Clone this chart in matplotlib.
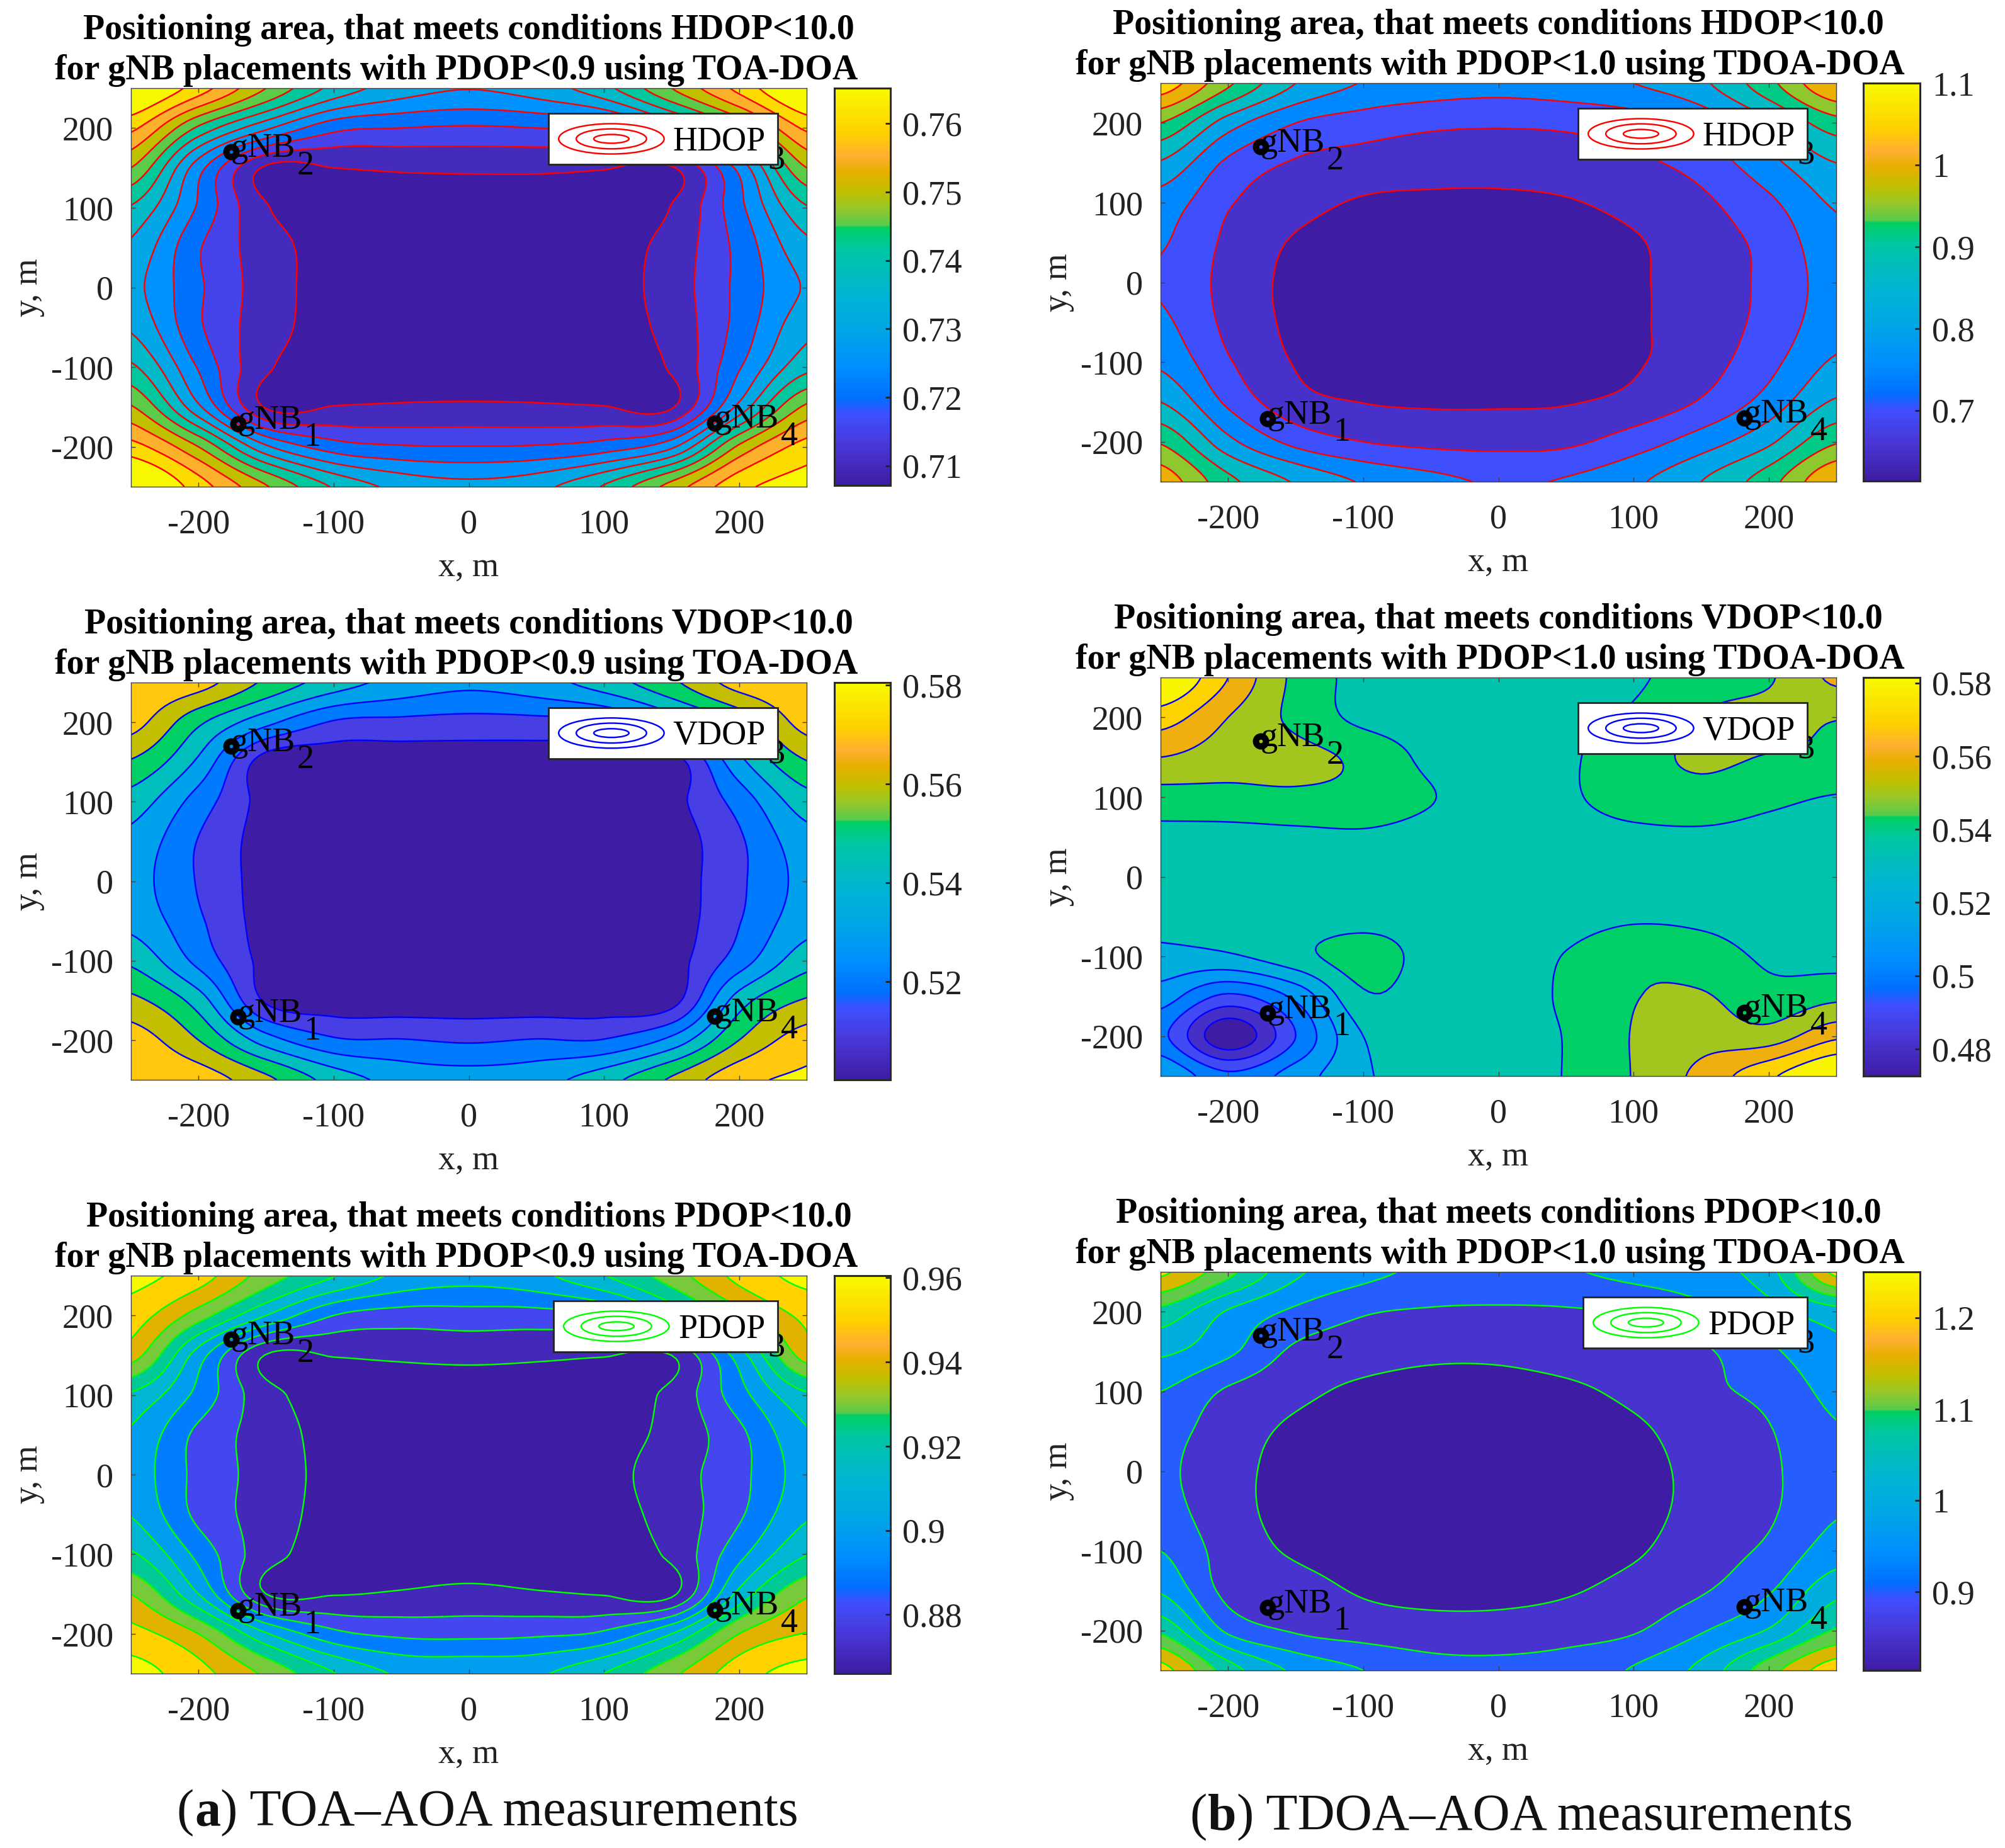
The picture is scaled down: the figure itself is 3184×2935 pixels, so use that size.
import numpy as np
import matplotlib
matplotlib.use('Agg')
import matplotlib.pyplot as plt
from matplotlib.colors import LinearSegmentedColormap, Normalize
from matplotlib.patches import Ellipse, Rectangle

W, H = 3184, 2935
plt.rcParams['font.family'] = ['Liberation Serif', 'DejaVu Serif']
plt.rcParams['axes.unicode_minus'] = False

# grid nodes (m); rows run from y=+250 to y=-250
x_nodes = [-250, -200, -150, -100, -50, 0, 50, 100, 150, 200, 250]
y_nodes = [250, 200, 150, 100, 50, 0, -50, -100, -150, -200, -250]

hdop_toa = [
 [.772,.7625,.750,.7385,.7325,.7302,.7325,.7385,.750,.7615,.772],
 [.7612,.744,.731,.7215,.720,.7194,.720,.7215,.731,.745,.761],
 [.750,.727,.7092,.710,.7106,.7108,.7108,.7103,.7095,.7265,.750],
 [.7395,.7243,.7104,.7085,.708,.7076,.708,.7085,.7102,.7236,.7395],
 [.734,.7205,.7123,.708,.7076,.7075,.7076,.708,.7119,.7215,.7335],
 [.7315,.7208,.7125,.708,.7076,.7075,.7076,.708,.7123,.7213,.7305],
 [.7343,.7208,.7122,.708,.7076,.7075,.7076,.708,.7117,.7218,.7335],
 [.741,.7245,.7108,.7085,.708,.7076,.708,.7085,.7106,.7245,.7385],
 [.7505,.731,.7095,.7102,.7106,.7108,.7106,.7102,.7095,.7315,.751],
 [.762,.750,.731,.7225,.7205,.7202,.7205,.7225,.729,.751,.762],
 [.773,.7625,.7505,.7395,.7335,.7315,.7335,.7405,.752,.7635,.767],
]
vdop_toa = [
 [.578,.574,.558,.545,.5365,.5322,.536,.545,.558,.574,.578],
 [.574,.552,.533,.519,.5175,.5165,.517,.519,.533,.552,.574],
 [.559,.538,.505,.504,.504,.504,.504,.504,.505,.537,.5595],
 [.5455,.5255,.5065,.503,.502,.5015,.502,.503,.507,.524,.5455],
 [.537,.5195,.506,.502,.501,.501,.501,.502,.505,.5185,.536],
 [.534,.5192,.506,.502,.501,.5005,.501,.502,.505,.5182,.533],
 [.537,.5215,.506,.502,.501,.501,.501,.502,.505,.5195,.536],
 [.548,.527,.507,.503,.502,.5015,.502,.503,.506,.525,.546],
 [.5625,.545,.5085,.5045,.504,.504,.504,.5045,.506,.545,.561],
 [.575,.560,.535,.5215,.5205,.5188,.5205,.5205,.533,.560,.575],
 [.5775,.5755,.5625,.546,.5365,.5344,.5365,.546,.5615,.577,.5815],
]
pdop_toa = [
 [.963,.9545,.9355,.9205,.9075,.9035,.9075,.9195,.935,.953,.963],
 [.955,.935,.910,.890,.8855,.886,.886,.890,.910,.935,.9525],
 [.9445,.905,.8695,.8705,.8715,.8722,.8715,.8705,.870,.905,.9445],
 [.9185,.897,.8735,.8665,.866,.866,.866,.8665,.8725,.896,.9185],
 [.9085,.8875,.8755,.8665,.8662,.8661,.8662,.8665,.873,.8875,.9085],
 [.9055,.887,.876,.867,.8662,.866,.8662,.867,.8755,.887,.9045],
 [.9095,.8875,.8755,.8665,.8662,.8661,.8662,.8665,.874,.8885,.9085],
 [.9215,.897,.874,.8665,.866,.866,.866,.8665,.872,.897,.9195],
 [.940,.910,.870,.8695,.871,.8725,.871,.8695,.868,.913,.9385],
 [.9535,.940,.911,.893,.888,.8875,.8885,.892,.910,.940,.9505],
 [.964,.9535,.938,.9205,.9085,.9075,.9085,.920,.9375,.9555,.964],
]
hdop_tdoa = [
 [1.08,.96,.85,.797,.778,.77,.78,.80,.84,.935,1.05],
 [.95,.825,.75,.725,.71,.706,.71,.725,.765,.84,.93],
 [.845,.74,.695,.68,.673,.673,.677,.69,.72,.785,.85],
 [.778,.705,.668,.645,.64,.639,.646,.665,.69,.74,.807],
 [.755,.69,.645,.628,.62,.619,.625,.645,.677,.715,.785],
 [.745,.684,.637,.622,.616,.615,.619,.643,.673,.712,.772],
 [.76,.688,.639,.622,.616,.616,.62,.643,.673,.716,.78],
 [.79,.705,.647,.631,.622,.622,.628,.645,.678,.735,.807],
 [.85,.74,.668,.649,.644,.644,.647,.664,.705,.77,.857],
 [.945,.815,.735,.70,.688,.686,.69,.725,.775,.84,.945],
 [1.03,.915,.845,.795,.765,.745,.755,.79,.85,.93,1.05],
]
vdop_tdoa = [
 [.592,.570,.5475,.537,.535,.535,.535,.5385,.545,.549,.562],
 [.575,.560,.5475,.5375,.535,.535,.5375,.5415,.5505,.553,.5505],
 [.560,.5545,.553,.5475,.5375,.535,.5385,.546,.5515,.5495,.548],
 [.546,.547,.548,.5465,.5405,.535,.5385,.5445,.5465,.5425,.5395],
 [.537,.5365,.5375,.5385,.5365,.535,.536,.5375,.538,.5365,.535],
 [.533,.534,.535,.535,.535,.535,.535,.535,.535,.535,.535],
 [.5325,.533,.535,.5365,.536,.535,.536,.5385,.538,.536,.535],
 [.5275,.5285,.5365,.5445,.5365,.535,.5405,.5475,.5445,.5385,.5365],
 [.515,.498,.5125,.5385,.535,.535,.5415,.5495,.551,.5435,.5475],
 [.5025,.4726,.500,.530,.535,.535,.5405,.5505,.5555,.5545,.568],
 [.520,.5025,.515,.5285,.535,.535,.5405,.5505,.563,.578,.592],
]
pdop_tdoa = [
 [1.21,1.115,1.01,.965,.94,.935,.945,.965,.985,1.03,1.215],
 [1.085,.995,.94,.905,.895,.893,.895,.905,.935,.98,1.03],
 [1.01,.96,.89,.872,.861,.861,.872,.885,.893,.94,.99],
 [.95,.893,.862,.84,.831,.831,.84,.862,.89,.913,.965],
 [.92,.873,.841,.823,.817,.817,.823,.841,.873,.897,.945],
 [.91,.866,.833,.817,.814,.814,.817,.833,.864,.892,.932],
 [.92,.867,.834,.818,.814,.814,.818,.834,.865,.893,.945],
 [.95,.877,.844,.826,.818,.818,.826,.844,.877,.91,.975],
 [.995,.885,.87,.845,.836,.836,.845,.867,.895,.945,1.035],
 [1.09,.94,.895,.878,.869,.869,.878,.895,.945,1.005,1.105],
 [1.22,1.075,.99,.95,.92,.915,.925,.955,1.015,1.13,1.23],
]

levels_hdop_toa = [.71,.715,.72,.725,.73,.735,.74,.745,.75,.755,.76,.765]
levels_vdop_toa = [.51,.52,.53,.54,.55,.56,.57,.58]
levels_pdop_toa = [.87,.88,.89,.90,.91,.92,.93,.94,.95,.96]
levels_hdop_tdoa = [.65,.70,.75,.80,.85,.90,.95,1.0,1.05,1.10]
levels_vdop_tdoa = [.48,.49,.50,.51,.52,.53,.54,.55,.56,.57,.58]
levels_pdop_tdoa = [.85,.90,.95,1.0,1.05,1.10,1.15,1.20]

ticks_hdop_toa = [.71,.72,.73,.74,.75,.76]
ticks_vdop_toa = [.52,.54,.56,.58]
ticks_pdop_toa = [.88,.90,.92,.94,.96]
ticks_hdop_tdoa = [.7,.8,.9,1.0,1.1]
ticks_vdop_tdoa = [.48,.50,.52,.54,.56,.58]
ticks_pdop_tdoa = [.9,1.0,1.1,1.2]

gnb_x = [-171, -176, 172, 182]
gnb_y = [-171, 170, 177, -170]
axis_ticks = [-200, -100, 0, 100, 200]

cmap = LinearSegmentedColormap.from_list('bar', [
    (0.00, '#3f1ca4'), (0.10, '#4a38d8'), (0.18, '#3f50ff'), (0.22, '#0070ff'),
    (0.30, '#0090ff'), (0.40, '#00a8e4'), (0.47, '#00b4d8'), (0.55, '#00bfb8'),
    (0.60, '#00c8a0'), (0.650, '#00d060'), (0.655, '#5acb4c'), (0.70, '#98c828'),
    (0.74, '#c0c000'), (0.79, '#e8b000'), (0.83, '#ffb030'), (0.885, '#ffd000'),
    (1.00, '#f8fa00')], N=512)


def refine(z, factor=12):
    """Smooth Catmull-Rom drawing of the values read at the grid nodes."""
    z = np.asarray(z, float)
    def along(a):
        n = a.shape[0]
        t = np.linspace(0, n - 1, (n - 1) * factor + 1)
        i = np.clip(t.astype(int), 0, n - 2)
        u = (t - i)[:, None]
        p0 = a[np.clip(i - 1, 0, n - 1)]
        p1, p2 = a[i], a[i + 1]
        p3 = a[np.clip(i + 2, 0, n - 1)]
        return 0.5 * (2 * p1 + (p2 - p0) * u + (2 * p0 - 5 * p1 + 4 * p2 - p3) * u ** 2
                      + (3 * p1 - p0 - 3 * p2 + p3) * u ** 3)
    zz = along(z)
    return along(zz.T).T


def fill_colour(f):
    # filled bands sit a little greener than the bar at the same value
    return cmap(float(np.interp(f, [0, .45, .50, .62, .66, 1], [0, .45, .55, .645, .66, 1])))


fig = plt.figure(figsize=(W / 100, H / 100), dpi=100)
FS = 39
TFS = 40.2
LW = 1.75


def px_axes(x0, y0, x1, y1):
    return fig.add_axes([x0 / W, 1 - y1 / H, (x1 - x0) / W, (y1 - y0) / H])


def fmt(v):
    return f'{v:.2f}'.rstrip('0').rstrip('.')


def panel(ax_box, cb_box, z, levels, vmin, vmax, cticks, line, name, t1, t2, t2_shift):
    x0, y0, x1, y1 = ax_box
    ax = px_axes(*ax_box)
    zz = refine(z)
    xf = np.linspace(x_nodes[0], x_nodes[-1], zz.shape[1])
    yf = np.linspace(y_nodes[0], y_nodes[-1], zz.shape[0])
    norm = Normalize(vmin, vmax)
    lows = [vmin] + levels
    cols = [fill_colour(norm(v)) for v in lows]
    ax.contourf(xf, yf, zz, levels=[vmin - 5] + levels + [vmax + 5], colors=cols, antialiased=False)
    ax.contour(xf, yf, zz, levels=levels, colors=line, linewidths=LW)
    ax.set_xlim(-250, 250)
    ax.set_ylim(-250, 250)
    ax.set_xticks(axis_ticks, [str(v) for v in axis_ticks])
    ax.set_yticks(axis_ticks, [str(v) for v in axis_ticks])
    ax.tick_params(direction='in', length=5, width=1, labelsize=FS, top=True, right=True,
                   color='#404040', labelcolor='#222222', pad=20)
    ax.tick_params(axis='x', pad=25)
    for s in ax.spines.values():
        s.set_linewidth(1)
        s.set_color('#404040')

    ax.plot(gnb_x, gnb_y, 'o', ms=11.5, mew=7.2, mfc='none', mec='black', ls='none', zorder=5)
    for k, (gx, gy) in enumerate(zip(gnb_x, gnb_y)):
        ax.text(gx, gy - 6, 'gNB', fontsize=FS, va='baseline', ha='left', color='black', zorder=6)
        ax.text(gx + 49, gy - 28, str(k + 1), fontsize=FS, va='baseline', ha='left', color='black', zorder=6)

    left = 62.7 if name == 'PDOP' else 59
    ax.add_patch(Rectangle((left, 154.4), 228.6 - left, 64, fc='white', ec='#222222', lw=2, zorder=10))
    cx = left + 46.5
    for w, h in [(78, 38), (52, 25), (26, 11)]:
        ax.add_patch(Ellipse((cx, 186.4), w, h, fc='none', ec=line, lw=LW, zorder=11))
    ax.text(219.7, 172, name, fontsize=FS, ha='right', va='baseline', color='black', zorder=11)

    xc = (x0 + x1) / 2
    fig.text(xc / W, 1 - (y0 - 78) / H, t1, fontsize=TFS, fontweight='bold', ha='center', va='baseline')
    fig.text((xc + t2_shift) / W, 1 - (y0 - 14) / H, t2, fontsize=TFS, fontweight='bold', ha='center', va='baseline')
    fig.text(xc / W, 1 - (y1 + 142) / H, 'x, m', fontsize=FS, ha='center', va='baseline', color='#222222')
    fig.text((x0 - 162) / W, 1 - ((y0 + y1) / 2) / H, 'y, m', fontsize=FS, rotation=90,
             ha='center', va='center', color='#222222')

    cax = px_axes(*cb_box)
    cax.imshow(np.linspace(0, 1, 512)[:, None], origin='lower', aspect='auto', cmap=cmap,
               extent=[0, 1, vmin, vmax], vmin=0, vmax=1)
    cax.set_xticks([])
    cax.yaxis.tick_right()
    cax.set_yticks(cticks, [fmt(v) for v in cticks])
    cax.tick_params(axis='y', direction='in', length=6, width=2, labelsize=FS, color='#222222',
                    labelcolor='#222222', pad=14)
    for s in cax.spines.values():
        s.set_linewidth(2.2)
        s.set_color('#2a2a2a')


L0, L1 = 208, 1281
R0, R1 = 1843, 2916
CL0, CL1 = 1325, 1414
CR0, CR1 = 2959, 3049

panel((L0, 140, L1, 773), (CL0, 140, CL1, 771), hdop_toa, levels_hdop_toa, .7071, .7652, ticks_hdop_toa, 'red', 'HDOP',
      'Positioning area, that meets conditions HDOP<10.0', 'for gNB placements with PDOP<0.9 using TOA-DOA', -20)
panel((L0, 1084, L1, 1715), (CL0, 1084, CL1, 1715), vdop_toa, levels_vdop_toa, .5001, .5805, ticks_vdop_toa, 'blue', 'VDOP',
      'Positioning area, that meets conditions VDOP<10.0', 'for gNB placements with PDOP<0.9 using TOA-DOA', -20)
panel((L0, 2026, L1, 2658), (CL0, 2026, CL1, 2658), pdop_toa, levels_pdop_toa, .866, .9605, ticks_pdop_toa, 'lime', 'PDOP',
      'Positioning area, that meets conditions PDOP<10.0', 'for gNB placements with PDOP<0.9 using TOA-DOA', -20)
panel((R0, 132, R1, 765), (CR0, 132, CR1, 764), hdop_tdoa, levels_hdop_tdoa, .6136, 1.10, ticks_hdop_tdoa, 'red', 'HDOP',
      'Positioning area, that meets conditions HDOP<10.0', 'for gNB placements with PDOP<1.0 using TDOA-DOA', -13)
panel((R0, 1076, R1, 1709), (CR0, 1076, CR1, 1709), vdop_tdoa, levels_vdop_tdoa, .4726, .5815, ticks_vdop_tdoa, 'blue', 'VDOP',
      'Positioning area, that meets conditions VDOP<10.0', 'for gNB placements with PDOP<1.0 using TDOA-DOA', -13)
panel((R0, 2020, R1, 2653), (CR0, 2020, CR1, 2653), pdop_tdoa, levels_pdop_tdoa, .814, 1.25, ticks_pdop_tdoa, 'lime', 'PDOP',
      'Positioning area, that meets conditions PDOP<10.0', 'for gNB placements with PDOP<1.0 using TDOA-DOA', -13)


def caption(x, y, letter, rest, size=59):
    r = fig.canvas.get_renderer()
    for s, w in (('(', 'normal'), (letter, 'bold'), (') ' + rest, 'normal')):
        t = fig.text(x / W, 1 - y / H, s, fontsize=size, fontweight=w, ha='left', va='baseline', color='#111111')
        x += t.get_window_extent(r).width + (0 if s != '(' else 2)


caption(280, 2899, 'a', 'TOA\u2013AOA measurements')
caption(1889, 2906, 'b', 'TDOA\u2013AOA measurements')

fig.savefig('out.png', dpi=100)
